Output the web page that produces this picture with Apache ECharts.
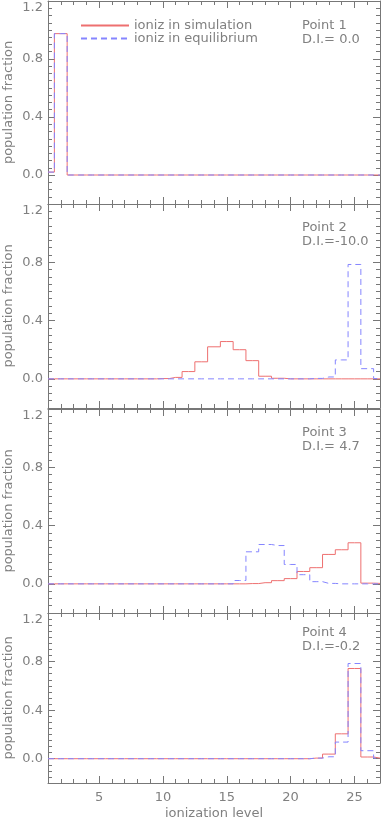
<!DOCTYPE html>
<html>
<head>
<meta charset="utf-8">
<script src="https://cdn.jsdelivr.net/npm/echarts@6/dist/echarts.min.js"></script>
<style>
  html, body { margin: 0; padding: 0; background: #fff; }
  #chart { width: 381px; height: 817px; }
</style>
</head>
<body>
<div id="chart"></div>
<script>
// ionization levels (x)
const levels = [1, 2, 3, 4, 5, 6, 7, 8, 9, 10, 11, 12, 13, 14, 15, 16, 17, 18, 19, 20, 21, 22, 23, 24, 25, 26, 27];
const xMajorTicks = [5, 10, 15, 20, 25];
const yMajorTicks = [0, 0.4, 0.8, 1.2];

// population fraction per level, simulation (red) and equilibrium (blue dashed)
const sim1 = [0.02, 0.975, 0, 0, 0, 0, 0, 0, 0, 0, 0, 0, 0, 0, 0, 0, 0, 0, 0, 0, 0, 0, 0, 0, 0, 0, 0];
const eq1  = [0.02, 0.975, 0, 0, 0, 0, 0, 0, 0, 0, 0, 0, 0, 0, 0, 0, 0, 0, 0, 0, 0, 0, 0, 0, 0, 0, 0];
const sim2 = [0, 0, 0, 0, 0, 0, 0, 0, 0, 0.002, 0.01, 0.05, 0.117, 0.22, 0.256, 0.2, 0.125, 0.018, 0.004, 0, 0, 0, 0, 0, 0, 0, 0];
const eq2  = [0, 0, 0, 0, 0, 0, 0, 0, 0, 0, 0, 0, 0, 0, 0, 0, 0, 0, 0, 0, 0, 0.003, 0.013, 0.13, 0.785, 0.07, 0.002];
const sim3 = [0, 0, 0, 0, 0, 0, 0, 0, 0, 0, 0, 0, 0, 0, 0, 0, 0.002, 0.008, 0.022, 0.036, 0.085, 0.111, 0.202, 0.234, 0.282, 0.005, 0.003];
const eq3  = [0, 0, 0, 0, 0, 0, 0, 0, 0, 0, 0, 0, 0, 0, 0, 0.023, 0.22, 0.27, 0.263, 0.133, 0.063, 0.015, 0.003, 0, 0, 0, 0];
const sim4 = [0, 0, 0, 0, 0, 0, 0, 0, 0, 0, 0, 0, 0, 0, 0, 0, 0, 0, 0, 0, 0, 0.005, 0.038, 0.205, 0.743, 0.014, 0.005];
const eq4  = [0, 0, 0, 0, 0, 0, 0, 0, 0, 0, 0, 0, 0, 0, 0, 0, 0, 0, 0, 0, 0, 0.005, 0.016, 0.137, 0.784, 0.066, 0.005];

const pointNames = ['Point 1', 'Point 2', 'Point 3', 'Point 4'];
const diNames = ['D.I.= 0.0', 'D.I.=-10.0', 'D.I.= 4.7', 'D.I.=-0.2'];
const simName = 'ioniz in simulation';
const eqName = 'ioniz in equilibrium';

const simData = [sim1, sim2, sim3, sim4];
const eqData = [eq1, eq2, eq3, eq4];

const FONT = 'DejaVu Sans';
const TEXT = '#808080';
const AXIS = '#777';
const RED = '#ee7070';
const BLUE = '#8585ff';

// panel boxes (px)
const panels = [
  { top: 1, height: 203, textTop: 26 },
  { top: 204, height: 204, textTop: 228 },
  { top: 409, height: 204, textTop: 433 },
  { top: 613, height: 170, textTop: 633 }
];

const grid = [];
const xAxis = [];
const yAxis = [];
const series = [];
const graphic = [];

panels.forEach((p, i) => {
  // outerBoundsMode none: keep the box fixed even if the x name spills off the page
  grid.push({ left: 48, width: 332, top: p.top, height: p.height, outerBoundsMode: 'none' });
  const last = i === panels.length - 1;

  // x axes: bottom major, bottom minor, top major, top minor
  ['bottom', 'top'].forEach(pos => {
    xAxis.push({
      gridIndex: i, type: 'value', position: pos, min: 1, max: 27,
      axisLine: { show: true, onZero: false, lineStyle: { color: AXIS, width: 1 } },
      axisTick: { show: true, inside: true, length: 7, customValues: xMajorTicks, lineStyle: { color: AXIS } },
      axisLabel: {
        show: last && pos === 'bottom', customValues: xMajorTicks, margin: 8,
        color: TEXT, fontSize: 13, fontFamily: FONT
      },
      splitLine: { show: false },
      name: last && pos === 'bottom' ? 'ionization level' : '',
      nameLocation: 'middle', nameGap: 24,
      nameTextStyle: { color: TEXT, fontSize: 13, fontFamily: FONT }
    });
    xAxis.push({
      gridIndex: i, type: 'value', position: pos, min: 1, max: 27, interval: 1,
      axisLine: { show: false, onZero: false },
      axisTick: { show: true, inside: true, length: 4, lineStyle: { color: AXIS } },
      axisLabel: { show: false },
      splitLine: { show: false }
    });
  });

  // y axes: left major, left minor, right major, right minor
  ['left', 'right'].forEach(pos => {
    yAxis.push({
      gridIndex: i, type: 'value', position: pos, min: -0.2, max: 1.2,
      axisLine: { show: true, onZero: false, lineStyle: { color: AXIS, width: 1 } },
      axisTick: { show: true, inside: true, length: 7, customValues: yMajorTicks, lineStyle: { color: AXIS } },
      axisLabel: {
        show: pos === 'left', customValues: yMajorTicks, margin: 5,
        color: TEXT, fontSize: 13, fontFamily: FONT,
        formatter: v => (v > 1.19 ? '{t|' + v.toFixed(1) + '}' : v.toFixed(1)),
        rich: { t: { color: TEXT, fontSize: 13, fontFamily: FONT, padding: [13, 0, 0, 0] } }
      },
      splitLine: { show: false },
      name: pos === 'left' ? 'population fraction' : '',
      nameLocation: 'middle', nameGap: 33, nameMoveOverlap: false,
      nameTextStyle: { color: TEXT, fontSize: 13, fontFamily: FONT }
    });
    yAxis.push({
      gridIndex: i, type: 'value', position: pos, min: -0.2, max: 1.2, interval: 0.05,
      axisLine: { show: false, onZero: false },
      axisTick: { show: true, inside: true, length: 4, lineStyle: { color: AXIS } },
      axisLabel: { show: false },
      splitLine: { show: false }
    });
  });

  series.push({
    name: simName, type: 'line', step: 'middle', xAxisIndex: i * 4, yAxisIndex: i * 4,
    data: levels.map((x, k) => [x, simData[i][k]]),
    showSymbol: false, symbol: 'none',
    lineStyle: { color: RED, width: 1 }, itemStyle: { color: RED }
  });
  series.push({
    name: eqName, type: 'line', step: 'middle', xAxisIndex: i * 4, yAxisIndex: i * 4,
    data: levels.map((x, k) => [x, eqData[i][k]]),
    showSymbol: false, symbol: 'none',
    lineStyle: { color: BLUE, width: 1, type: [6, 4] }, itemStyle: { color: BLUE }
  });

  graphic.push({
    type: 'text', left: 302, top: p.textTop - 8,
    style: { text: pointNames[i] + '\n' + diNames[i], fill: TEXT, font: '13px "DejaVu Sans"', lineHeight: 14.5 }
  });
});

const chart = echarts.init(document.getElementById('chart'));
chart.setOption({
  animation: false,
  grid: grid,
  xAxis: xAxis,
  yAxis: yAxis,
  legend: {
    data: [simName, eqName],
    orient: 'vertical', left: 80, top: 19, padding: 0,
    itemWidth: 48, itemHeight: 14, itemGap: 0,
    itemStyle: { opacity: 0 },
    textStyle: { color: TEXT, fontSize: 13, fontFamily: FONT }
  },
  graphic: graphic,
  series: series
});
</script>
</body>
</html>
